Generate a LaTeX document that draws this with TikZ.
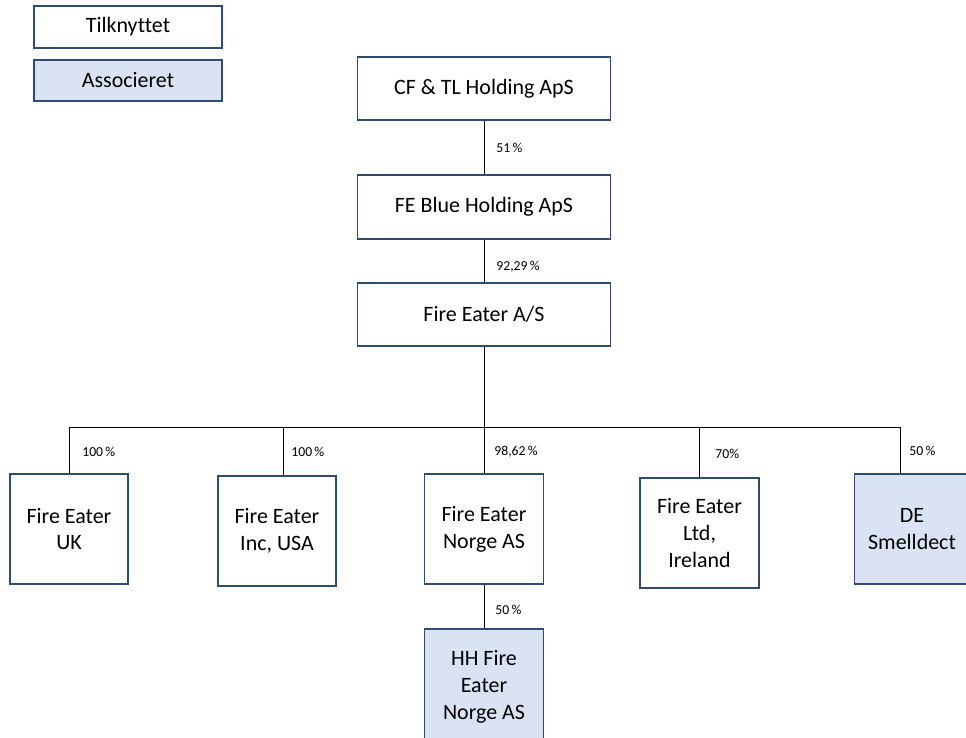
\documentclass[tikz,border=0pt]{standalone}
\usepackage{fontspec}
\setmainfont{Carlito}[Ligatures={NoCommon}]
\usepackage{color}
\definecolor{boxline}{HTML}{2F4B74}
\definecolor{assocfill}{HTML}{DAE3F3}

\tikzset{
  firm/.style={draw=boxline,line width=0.8pt,fill=white,align=center,inner sep=2pt,
    font=\fontsize{12.5}{15.2}\selectfont},
  assoc/.style={firm,fill=assocfill},
  pct/.style={anchor=west,inner sep=0pt,font=\fontsize{7.8}{9}\selectfont},
  owns/.style={black,line width=0.5pt}
}

\begin{document}
\begin{tikzpicture}[x=0.02cm,y=-0.02cm]
        \useasboundingbox (0,0) rectangle (966,737);
        % legend
        \node[firm,minimum width=3.76cm,minimum height=0.84cm] (tilk) at (128,27) {Tilknyttet};
        \node[assoc,minimum width=3.76cm,minimum height=0.82cm] (asso) at (128,80.5) {Associeret};
        % holding chain
        \node[firm,minimum width=5.06cm,minimum height=1.26cm] (cf) at (484,88.5) {CF \& TL Holding ApS};
        \node[firm,minimum width=5.06cm,minimum height=1.28cm] (blue) at (484,207) {FE Blue Holding ApS};
        \node[firm,minimum width=5.06cm,minimum height=1.26cm] (fa) at (484,314.5) {Fire Eater A/S};
        % subsidiaries
        \node[firm,minimum width=2.36cm,minimum height=2.2cm] (uk) at (69,529) {Fire Eater\\UK};
        \node[firm,minimum width=2.36cm,minimum height=2.2cm] (usa) at (277,531) {Fire Eater\\Inc, USA};
        \node[firm,minimum width=2.38cm,minimum height=2.2cm] (norge) at (484,529) {Fire Eater\\Norge AS};
        \node[firm,minimum width=2.38cm,minimum height=2.2cm] (irl) at (699.5,533) {Fire Eater\\Ltd,\\Ireland};
        \node[assoc,minimum width=2.3cm,minimum height=2.2cm] (de) at (912,529) {DE\\Smelldect};
        \node[assoc,minimum width=2.38cm,minimum height=2.32cm] (hh) at (484,687) {HH Fire\\Eater\\Norge AS};
        % ownership lines
        \coordinate (bus) at (484,427);
        \draw[owns] (cf) -- (blue);
        \draw[owns] (blue) -- (fa);
        \draw[owns] (fa) -- (bus);
        \draw[owns] (bus) -| (uk);
        \draw[owns] (bus) -| ([xshift=0.12cm]usa.north);
        \draw[owns] (bus) -- (norge);
        \draw[owns] (bus) -| (irl);
        \draw[owns] (bus) -| ([xshift=-0.24cm]de.north);
        \draw[owns] (norge) -- (hh);
        % percentages
        \node[pct] (p1) at (496,148) {51\,\%};
        \node[pct] (p2) at (496,267) {92,29\,\%};
        \node[pct] (p3) at (82,452) {100\,\%};
        \node[pct] (p4) at (291,452) {100\,\%};
        \node[pct] (p5) at (494,452) {98,62\,\%};
        \node[pct] (p6) at (715,454) {70\%};
        \node[pct] (p7) at (909,451) {50\,\%};
        \node[pct] (p8) at (495,610) {50\,\%};
\end{tikzpicture}
\end{document}
